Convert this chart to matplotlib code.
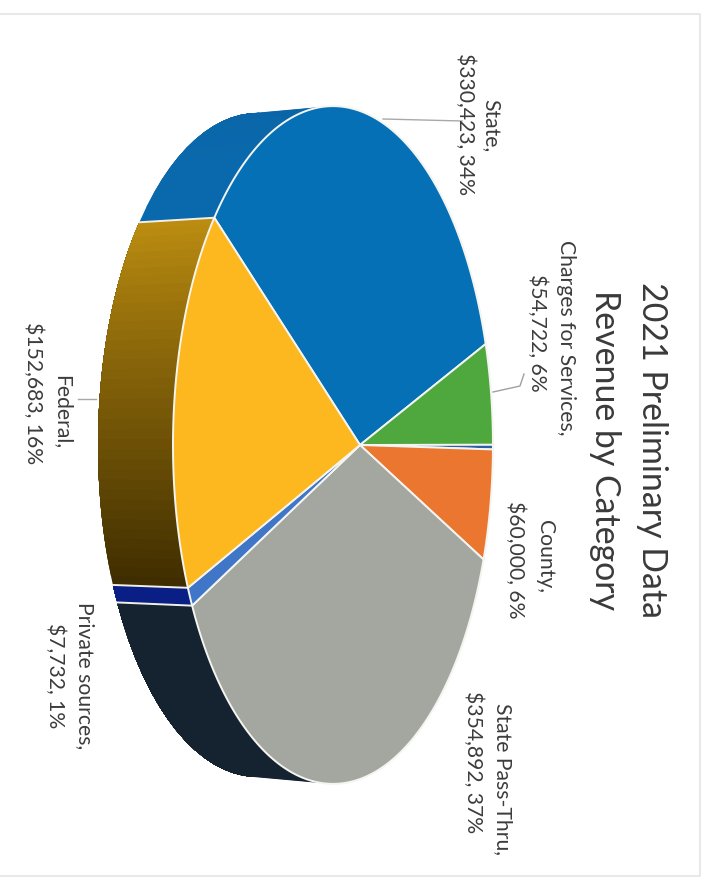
import numpy as np
import matplotlib.pyplot as plt
from matplotlib.colors import to_rgb
from matplotlib.patches import Polygon

plt.rcParams['font.family'] = ['Lato', 'DejaVu Sans']

# data, in drawing order (clockwise on the page, starting from the State slice)
categories = ['State', 'Charges for Services', 'Other', 'County',
              'State Pass-Thru', 'Private sources', 'Federal']
values = [330423, 54722, 2500, 60000, 354892, 7732, 152683]
top_colors = ['#0670b6', '#4fa83d', '#2c5fa6', '#ea762f',
              '#a4a7a0', '#3f76c8', '#fcb81e']
side_start = ['#0a69ad', '#3a7d2c', '#1c3f70', '#a8531f',
              '#14232f', '#0a1f86', '#3f2d00']
side_end = ['#0a5f9f', '#3a7d2c', '#1c3f70', '#a8531f',
            '#14232f', '#0a1f86', '#bb8c10']

title_lines = ['2021 Preliminary Data', 'Revenue by Category']
label_lines = [
    ('State,', 491, 126),
    ('$330,423, 34%', 465, 124),
    ('Charges for Services,', 566, 338),
    ('$54,722, 6%', 537, 333),
    ('County,', 545, 557),
    ('$60,000, 6%', 515, 560),
    ('State Pass-Thru,', 503, 779),
    ('$354,892, 37%', 473, 762),
    ('Private sources,', 85, 676),
    ('$7,732, 1%', 55, 676),
    ('Federal,', 62, 412),
    ('$152,683, 16%', 33, 393),
]

# pie seen in perspective, page turned a quarter clockwise
cx, cy = 360, 446
ax_x, ax_y, persp = 155.4, 334, 0.169
depth, shrink = 75, 0.98


def top_edge(t):
    d = 1 + persp * np.cos(t)
    return cx + ax_x * np.cos(t) / d, cy + ax_y * np.sin(t) / d


def low_edge(t):
    x, y = top_edge(t)
    return x - depth, cy + (y - cy) * shrink


fig = plt.figure(figsize=(7.08, 8.79), dpi=100)
ax = fig.add_axes([0, 0, 1, 1])
ax.set_xlim(0, 708)
ax.set_ylim(879, 0)
ax.axis('off')

# page frame of the scan
ax.plot([0, 700, 700, 0], [15, 15, 877, 877], color='#e8e8e8', lw=1.5)

fracs = np.array(values) / sum(values)
edges = np.cumsum(np.concatenate([[0], fracs])) * 2 * np.pi - np.radians(20.5) - fracs[0] * 2 * np.pi

# sides first
for i in range(len(values)):
    ts = np.linspace(edges[i], edges[i + 1], 40)
    c0, c1 = np.array(to_rgb(side_start[i])), np.array(to_rgb(side_end[i]))
    for j in range(len(ts) - 1):
        f = j / (len(ts) - 2)
        col = c1 * f + c0 * (1 - f)
        # each strip reaches to the end of the slice, so no seams show between strips
        xa, ya = top_edge(ts[j:])
        xb, yb = low_edge(ts[j:])
        pts = list(zip(xa, ya)) + list(zip(xb[::-1], yb[::-1]))
        ax.add_patch(Polygon(pts, closed=True, fc=col, ec='none', zorder=2))
    # seam between the slices
    xa, ya = top_edge(edges[i])
    xb, yb = low_edge(edges[i])
    ax.plot([xa, xb], [ya, yb], color='#f2efe6', lw=1.4, zorder=3)

# top face
for i in range(len(values)):
    ts = np.linspace(edges[i], edges[i + 1], 150)
    x, y = top_edge(ts)
    pts = [(cx, cy)] + list(zip(x, y))
    ax.add_patch(Polygon(pts, closed=True, fc=top_colors[i], ec='#f4f4f0', lw=1.4, zorder=4))

# leader lines
ax.plot([383, 462], [120, 122], color='#a8a8a8', lw=1, zorder=1)
ax.plot([493, 520, 524], [393, 387, 375], color='#a0a0a0', lw=1, zorder=1)
ax.plot([78, 96], [400, 400], color='#a8a8a8', lw=1, zorder=1)

for line, x in zip(title_lines, [652, 605]):
    ax.text(x, 450, line, rotation=270, ha='center', va='center',
            fontsize=24.4, color='#3a3a3a')

for line, x, y in label_lines:
    ax.text(x, y, line, rotation=270, ha='center', va='center',
            fontsize=15.2, color='#3c3c3c')

fig.savefig('out.png', dpi=100)
